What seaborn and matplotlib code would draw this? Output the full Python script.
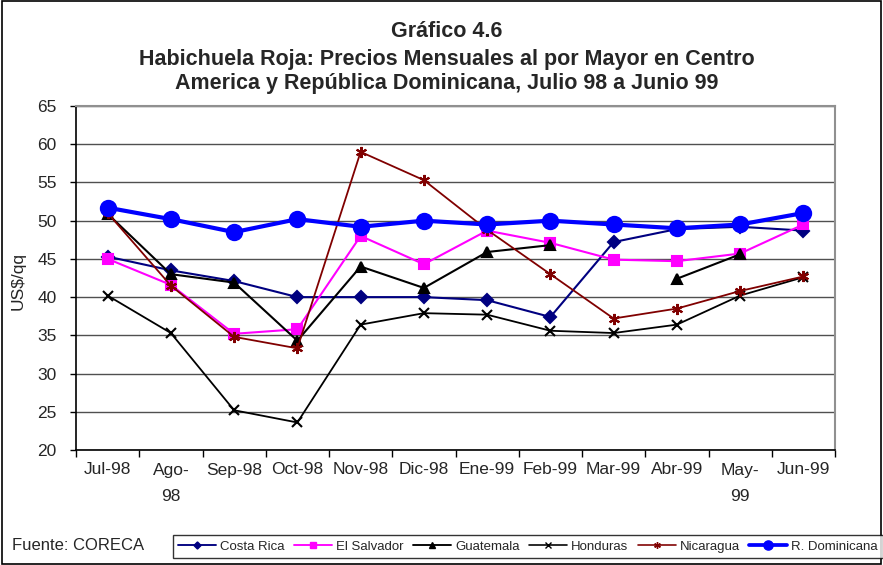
import numpy as np
import pandas as pd
import matplotlib
matplotlib.use("Agg")
import matplotlib.pyplot as plt
import seaborn as sns
from matplotlib.patches import Rectangle

# data (US$/qq)
months = ["Jul-98", "Ago-\n98", "Sep-98", "Oct-98", "Nov-98", "Dic-98",
          "Ene-99", "Feb-99", "Mar-99", "Abr-99", "May-\n99", "Jun-99"]
costa_rica = [45.3, 43.5, 42.1, 40.0, 40.0, 40.0, 39.6, 37.4, 47.2, 48.9, 49.2, 48.7]
el_salvador = [45.0, 41.6, 35.2, 35.8, 48.0, 44.3, 48.7, 47.1, 44.9, 44.7, 45.7, 49.5]
guatemala = [50.9, 43.0, 41.9, 34.3, 44.0, 41.2, 45.9, 46.8, np.nan, 42.4, 45.6, np.nan]
honduras = [40.2, 35.3, 25.2, 23.6, 36.4, 37.9, 37.7, 35.6, 35.3, 36.4, 40.2, 42.6]
nicaragua = [51.0, 41.5, 34.8, 33.3, 59.0, 55.3, 48.8, 43.0, 37.2, 38.5, 40.8, 42.7]
rep_dom = [51.7, 50.2, 48.5, 50.2, 49.2, 50.0, 49.5, 50.0, 49.5, 49.0, 49.5, 51.0]

series = [
    ("Costa Rica", costa_rica, "#000080", "D", 6, 1.5),
    ("El Salvador", el_salvador, "#FF00FF", "s", 7, 1.5),
    ("Guatemala", guatemala, "black", "^", 7, 1.5),
    ("Honduras", honduras, "black", "x", 7, 1.3),
    ("Nicaragua", nicaragua, "#800000", (6, 2, 0), 8, 1.3),
    ("R. Dominicana", rep_dom, "#0000FF", "o", 11, 3.0),
]

sns.set_style("white")
plt.rcParams["font.family"] = ["Liberation Sans", "DejaVu Sans"]

fig = plt.figure(figsize=(8.83, 5.65), dpi=100)
ax = fig.add_axes([76 / 883, 1 - 450 / 565, (835 - 76) / 883, (450 - 106) / 565])

x = np.arange(len(months))
handles = []
for name, vals, color, marker, ms, lw in series:
    df = pd.DataFrame({"x": x, "y": vals})
    # split into contiguous runs so gaps stay gaps
    df["run"] = df["y"].isna().cumsum()
    df = df.dropna()
    for _, part in df.groupby("run"):
        sns.lineplot(data=part, x="x", y="y", color=color, marker=marker,
                     markersize=ms, linewidth=lw, markeredgecolor=color,
                     markeredgewidth=1.5, ax=ax, legend=False)
    handles.append(plt.Line2D([], [], color=color, marker=marker,
                              markersize=ms * 0.6, linewidth=lw * 0.9,
                              markeredgecolor=color, label=name))

ax.set_xlim(-0.5, len(months) - 0.5)
ax.set_ylim(20, 65)
ax.set_yticks(range(20, 66, 5))
ax.set_yticklabels([str(v) for v in range(20, 66, 5)], fontsize=12.5)
ax.set_xticks(x)
ax.set_xticklabels(months, fontsize=12.5, linespacing=1.95)
ax.set_xticks(np.arange(-0.5, len(months), 1), minor=True)
ax.tick_params(axis="x", which="major", length=0, pad=9)
ax.tick_params(axis="x", which="minor", length=5, width=1, color="black",
               direction="out", bottom=True)
ax.tick_params(axis="y", length=4, width=1, color="black", direction="out",
               left=True, pad=10)
ax.grid(axis="y", color="#505050", linewidth=1)
ax.set_axisbelow(True)
ax.set_xlabel("")
ax.set_ylabel("US$/qq", fontsize=12.5)
ax.yaxis.set_label_coords(-0.066, 0.49)
for side in ["left", "bottom"]:
    ax.spines[side].set_color("black")
    ax.spines[side].set_linewidth(1.2)
for side in ["top", "right"]:
    ax.spines[side].set_color("#909090")
    ax.spines[side].set_linewidth(1.5)

title_lines = ["Gráfico 4.6",
               "Habichuela Roja: Precios Mensuales al por Mayor en Centro",
               "America y República Dominicana, Julio 98 a Junio 99"]
for line, base in zip(title_lines, [37, 64.5, 88.5]):
    fig.text(447 / 883, 1 - base / 565, line, ha="center", va="baseline",
             fontsize=15.5, fontweight="bold")

fig.text(12 / 883, 1 - 546 / 565, "Fuente: CORECA", ha="left", va="center",
         fontsize=12)

leg = fig.legend(handles=handles, loc="center", ncol=6,
                 bbox_to_anchor=(528 / 883, 1 - 546.5 / 565), fontsize=9.5,
                 frameon=True, fancybox=False, edgecolor="black",
                 handlelength=2.9, handletextpad=0.3, columnspacing=0.7,
                 borderpad=0.4, borderaxespad=0)
leg.get_frame().set_linewidth(1.0)

fig.patches.append(Rectangle((0.002, 0.002), 0.996, 0.996, transform=fig.transFigure,
                             fill=False, edgecolor="black", linewidth=1.2))

fig.savefig("out.png", dpi=100)
